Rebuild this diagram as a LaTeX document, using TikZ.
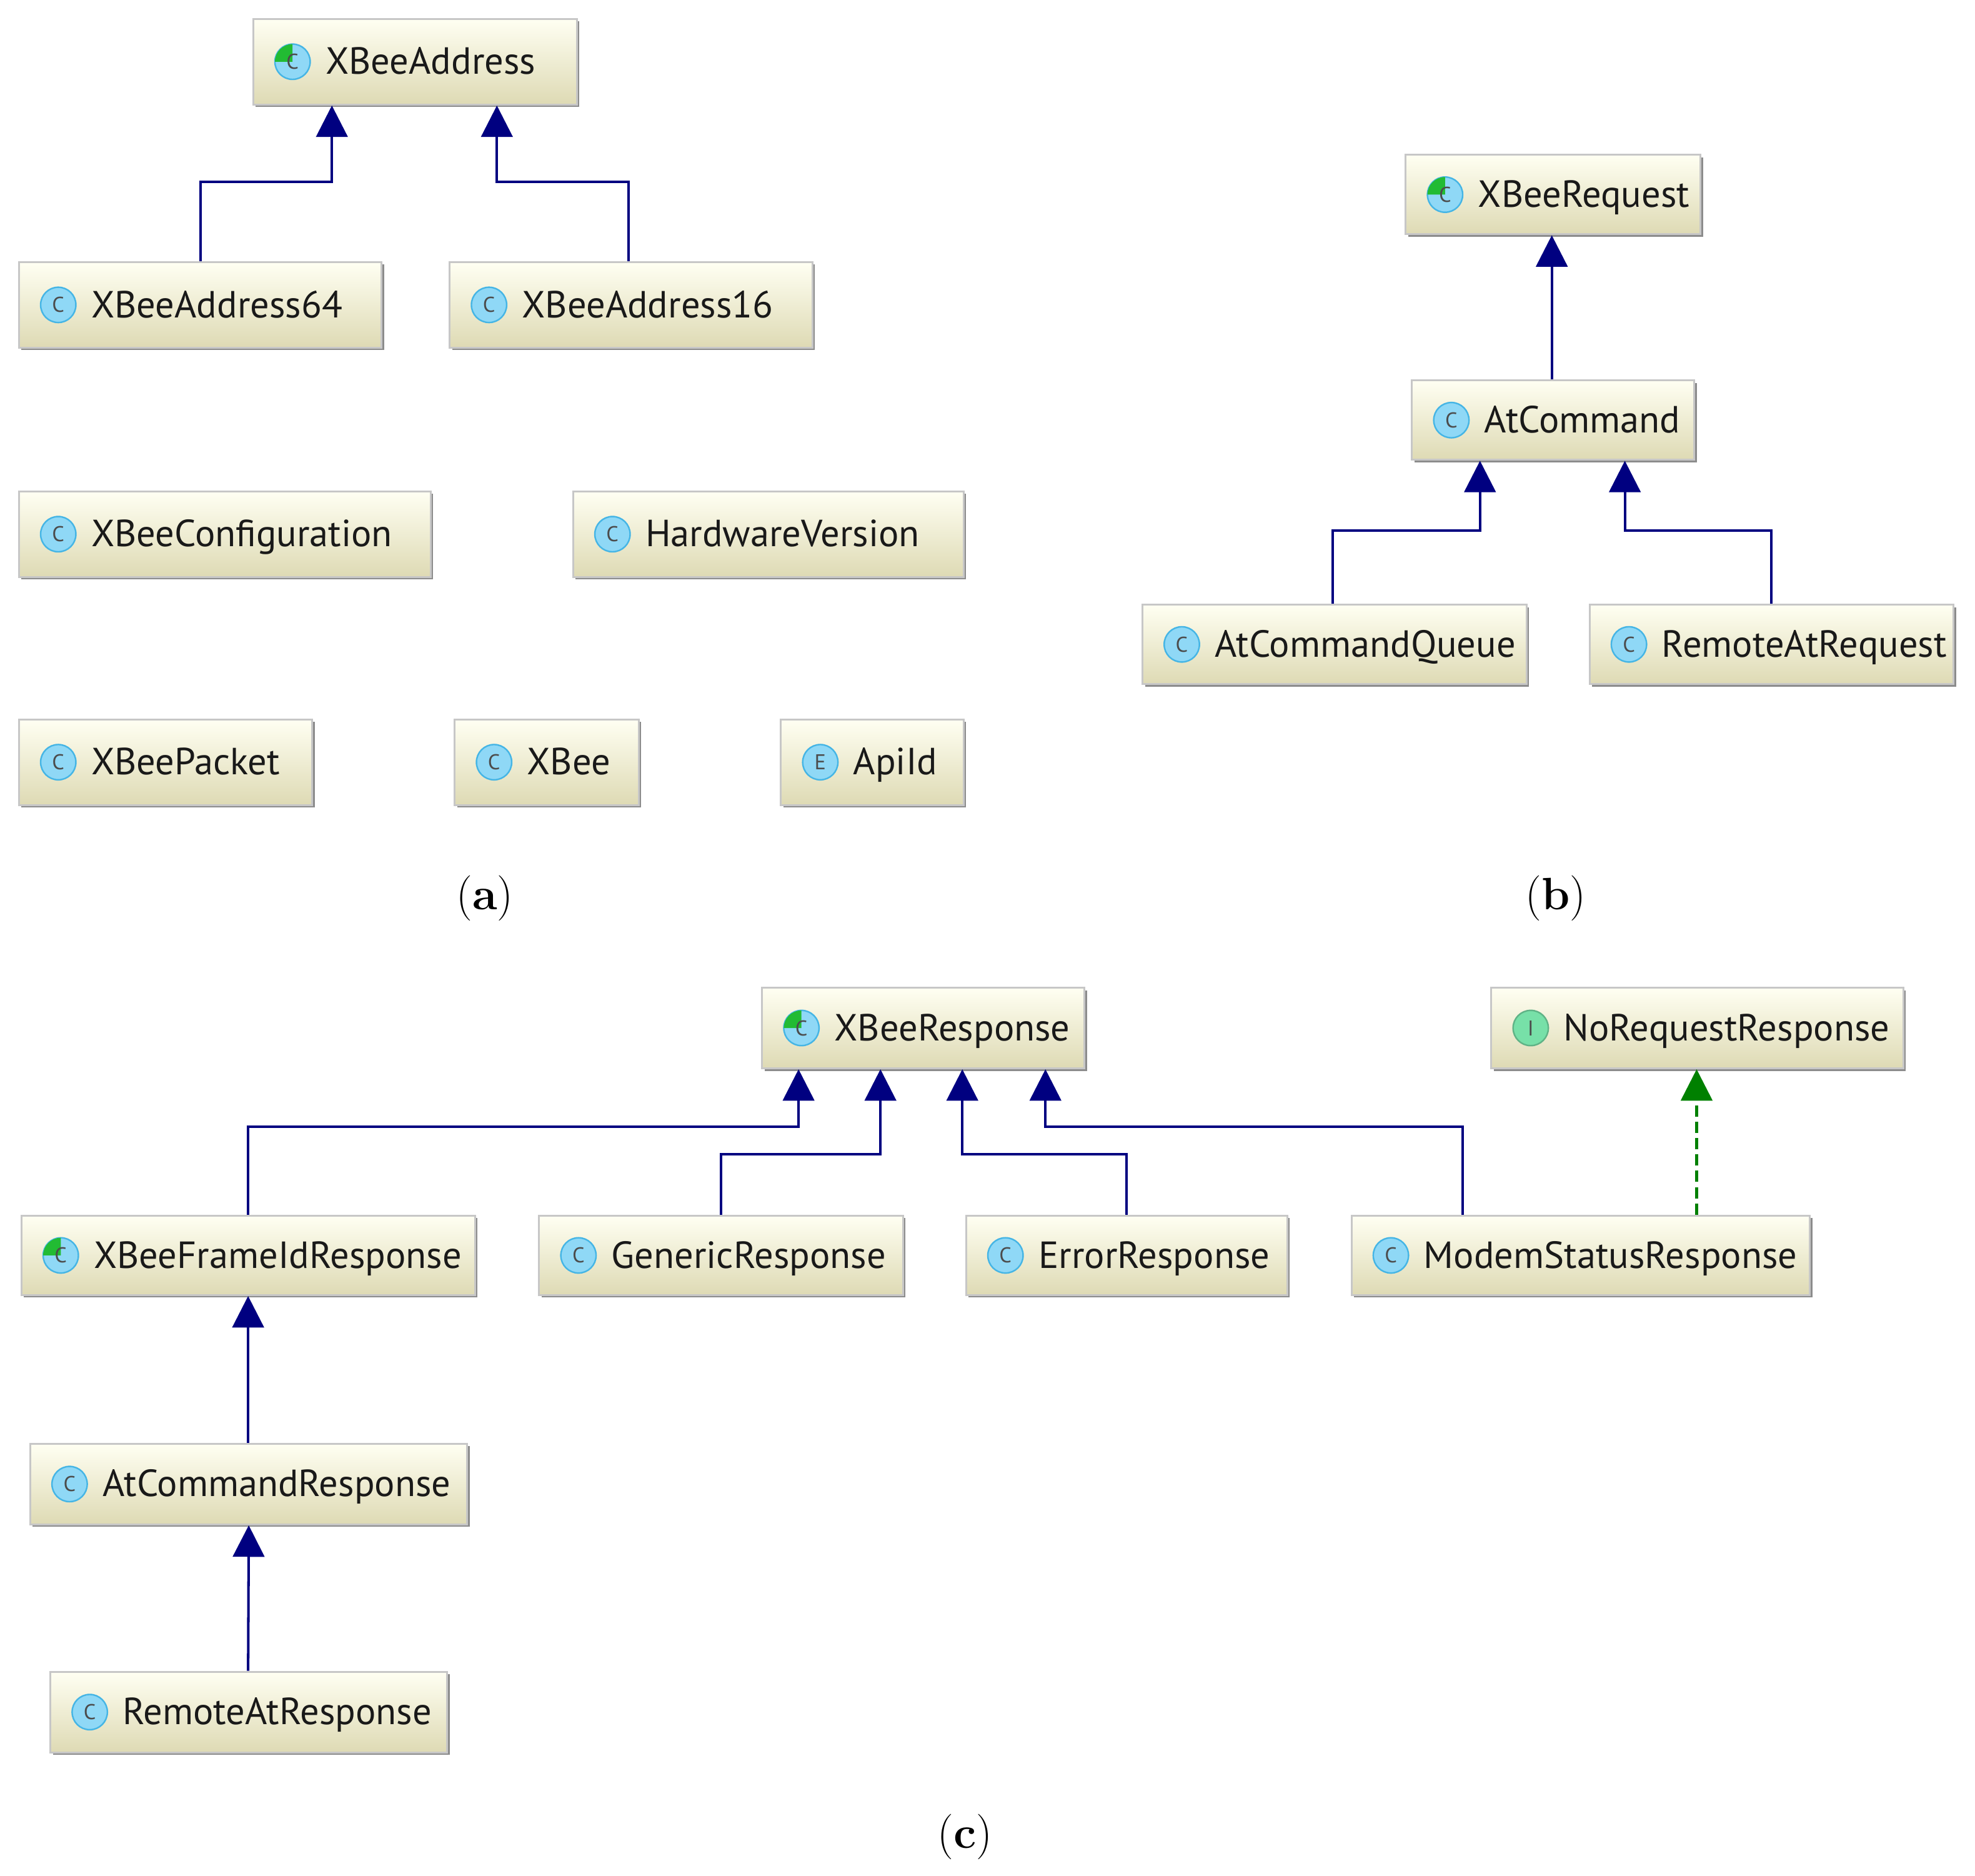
\documentclass[tikz,border=0pt]{standalone}
\usepackage{fontspec}
\newfontfamily\uifont{PT Sans}
\usetikzlibrary{arrows.meta,shadows}
\definecolor{navy}{HTML}{000080}
\definecolor{iblue}{HTML}{8FD8F6}
\definecolor{iblueb}{HTML}{45B5E5}
\definecolor{igreen}{HTML}{22BB33}
\definecolor{igreenl}{HTML}{77E0A8}
\definecolor{dgreen}{HTML}{008000}
\tikzset{
 cbox/.style={draw=black!22, line width=1.5pt, top color=white!95!yellow, bottom color={rgb,255:red,222;green,218;blue,180},
   drop shadow={shadow xshift=2pt, shadow yshift=-2pt, fill=black!45, opacity=1}, inner sep=0pt},
 ctext/.style={anchor=base west, font=\uifont\fontsize{30}{35}\selectfont, inner sep=0pt, text=black!90},
 icl/.style={font=\uifont\fontsize{17}{19}\selectfont, text=black!70, inner sep=0pt},
 inh/.style={draw=navy, line width=2pt, -{Triangle[width=25pt,length=25pt]}},
 impl/.style={draw=dgreen, line width=2pt, dash pattern=on 9pt off 4pt, -{Triangle[width=25pt,length=25pt,fill=dgreen]}},
 lbl/.style={font=\fontsize{36}{42}\selectfont, inner sep=0pt}
}
\newcommand\iconC[1]{\draw[fill=iblue, draw=iblueb, line width=1.2pt] (#1) circle (14); \node[icl] at (#1) {C};}
\newcommand\iconA[1]{\draw[fill=iblue, draw=iblueb, line width=1.2pt] (#1) circle (14);
  \fill[igreen] (#1) -- ++(-14,0) arc (180:90:14) -- cycle; \node[icl] at (#1) {C};}
\newcommand\iconE[1]{\draw[fill=iblue, draw=iblueb, line width=1.2pt] (#1) circle (14); \node[icl] at (#1) {E};}
\newcommand\iconI[1]{\draw[fill=igreenl, draw=igreenl!80!black, line width=1.2pt] (#1) circle (14); \node[icl] at (#1) {I};}
\newcommand\cls[7]{%
 \node[cbox, minimum width={(#4-#2)*1pt}, minimum height={(#5-#3)*1pt}] (#1) at ({(#2+#4)/2},{-(#3+#5)/2}) {};
 \coordinate (#1-ic) at ([xshift=32pt]#1.west);
 #6{#1-ic}
 \node[ctext] at ([xshift=58pt,yshift=-10pt]#1.west) {#7};
}
\begin{document}
\begin{tikzpicture}[x=1pt,y=1pt]
\useasboundingbox (0,0) rectangle (1568,-1489);
% (a)
\cls{xa}{201}{15}{458}{83}{\iconA}{XBeeAddress}
\cls{a64}{15}{208}{303}{276}{\iconC}{XBeeAddress64}
\cls{a16}{357}{208}{645}{276}{\iconC}{XBeeAddress16}
\cls{cfg}{15}{390}{342}{458}{\iconC}{XBeeConfiguration}
\cls{hw}{455}{390}{765}{458}{\iconC}{HardwareVersion}
\cls{pk}{15}{571}{248}{639}{\iconC}{XBeePacket}
\cls{xb}{361}{571}{507}{639}{\iconC}{XBee}
\cls{api}{620}{571}{765}{639}{\iconE}{ApiId}
\draw[inh] (a64.north) -- ++(0,63) -| ([xshift=-66pt]xa.south);
\draw[inh] ([xshift=-2pt]a16.north) -- ++(0,63) -| ([xshift=65pt]xa.south);
\node[lbl] (la) at (385,-713) {(\textbf{a})};
% (b)
\cls{xr}{1116}{123}{1350}{186}{\iconA}{XBeeRequest}
\cls{at}{1121}{302}{1345}{365}{\iconC}{AtCommand}
\cls{atq}{907}{480}{1212}{543}{\iconC}{AtCommandQueue}
\cls{rar}{1262}{480}{1551}{543}{\iconC}{RemoteAtRequest}
\draw[inh] ([xshift=-1pt]at.north) -- ([xshift=-1pt]xr.south);
\draw[inh] ([xshift=-1.5pt]atq.north) -- ++(0,58) -| ([xshift=-58pt]at.south);
\draw[inh] (rar.north) -- ++(0,58) -| ([xshift=57pt]at.south);
\node[lbl] (lb) at (1235,-713) {(\textbf{b})};
% (c)
\cls{resp}{605}{784}{861}{848}{\iconA}{XBeeResponse}
\cls{nrr}{1184}{784}{1511}{848}{\iconI}{NoRequestResponse}
\cls{fid}{17}{965}{377}{1028}{\iconA}{XBeeFrameIdResponse}
\cls{gen}{428}{965}{717}{1028}{\iconC}{GenericResponse}
\cls{err}{767}{965}{1022}{1028}{\iconC}{ErrorResponse}
\cls{mod}{1073}{965}{1437}{1028}{\iconC}{ModemStatusResponse}
\cls{acr}{24}{1146}{371}{1210}{\iconC}{AtCommandResponse}
\cls{rresp}{40}{1327}{355}{1391}{\iconC}{RemoteAtResponse}
\draw[inh] (fid.north) -- ++(0,70) -| ([xshift=-99pt]resp.south);
\draw[inh] (gen.north) -- ++(0,48) -| ([xshift=-34pt]resp.south);
\draw[inh] (err.north) -- ++(0,48) -| ([xshift=31pt]resp.south);
\draw[inh] ([xshift=-94pt]mod.north) -- ++(0,70) -| ([xshift=97pt]resp.south);
\draw[impl] ([xshift=92pt]mod.north) -- ([xshift=-0.5pt]nrr.south);
\draw[inh] ([xshift=-0.5pt]acr.north) -- ([xshift=0pt]fid.south);
\draw[inh] ([xshift=-0.5pt]rresp.north) -- ([xshift=0pt]acr.south);
\node[lbl] (lc) at (766,-1458) {(\textbf{c})};
\end{tikzpicture}
\end{document}
